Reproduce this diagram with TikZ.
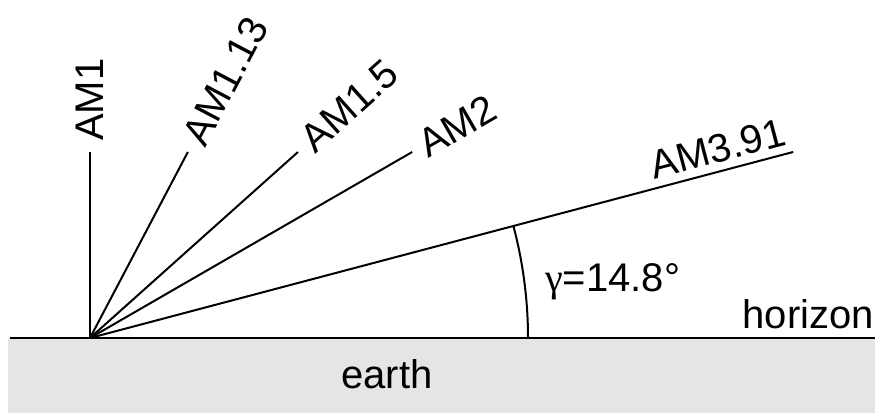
\documentclass[tikz,border=0pt]{standalone}
\usepackage{fontspec}
\setmainfont{Liberation Sans}
\newfontfamily\grk{Liberation Serif}
\usetikzlibrary{calc}

\begin{document}
\begin{tikzpicture}[
  x=1pt, y=1pt,
  font=\fontsize{40}{42}\selectfont,
  ray/.style={line width=2pt},
  lbl/.style={anchor=west, inner sep=11pt},
  txt/.style={inner sep=0pt}
]
\useasboundingbox (0,0) rectangle (875,413);

% earth and horizon
\fill[black!10] (8,0) rectangle (875,75);
\coordinate (o)  at (90,75);
\coordinate (hl) at (10,75);
\coordinate (hr) at (875,75);
\draw[ray] (hl) -- (hr);
\node[txt, anchor=base east] (hz) at (874,85) {horizon};
\node[txt, anchor=base] (ea) at (387,25) {earth};

% air mass rays
\coordinate (e1)  at ($(o)+(90:186)$);
\coordinate (e2)  at ($(o)+(62.25:210.2)$);
\coordinate (e3)  at ($(o)+(41.81:279)$);
\coordinate (e4)  at ($(o)+(30:372)$);
\coordinate (e5)  at ($(o)+(14.82:727.4)$);
\draw[ray] (o) -- (e1);
\draw[ray] (o) -- (e2);
\draw[ray] (o) -- (e3);
\draw[ray] (o) -- (e4);
\draw[ray] (o) -- (e5);
\node[lbl, rotate=90]    (l1) at (e1) {AM1};
\node[lbl, rotate=62.25] (l2) at (e2) {AM1.13};
\node[lbl, rotate=41.81] (l3) at (e3) {AM1.5};
\node[lbl, rotate=30]    (l4) at (e4) {AM2};
\node[anchor=south east, inner xsep=3pt, inner ysep=8pt, rotate=14.82] (l5) at (e5) {AM3.91};

% angle
\coordinate (a0) at (528,75);
\draw[ray] (a0) arc[start angle=0, end angle=14.82, radius=438];
\node[txt, anchor=base west] (ga) at (545,122) {{\grk γ}=14.8°};
\end{tikzpicture}
\end{document}
